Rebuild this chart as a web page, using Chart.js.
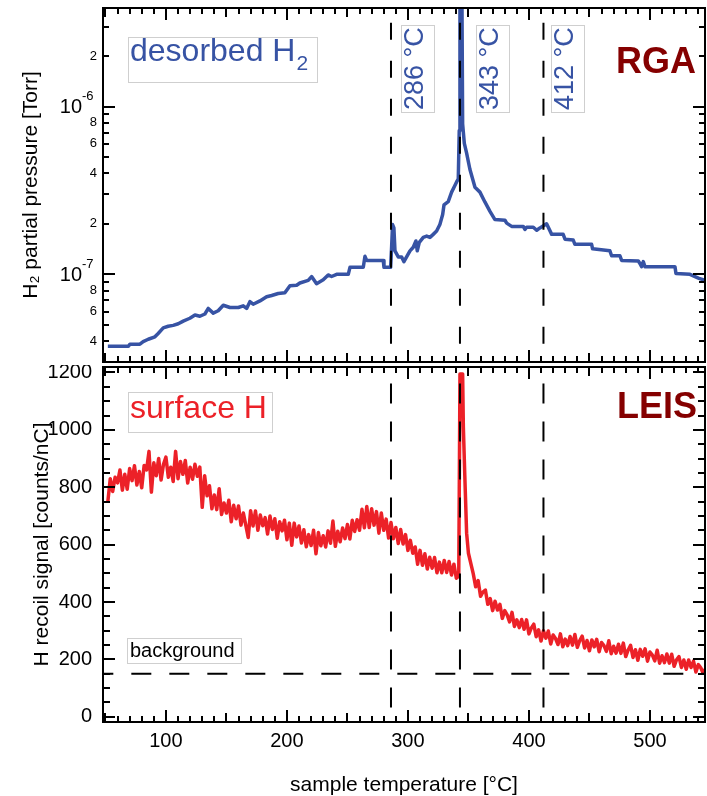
<!DOCTYPE html>
<html>
<head>
<meta charset="utf-8">
<script src="https://cdn.jsdelivr.net/npm/chart.js@4.4.0/dist/chart.umd.min.js"></script>
<style>
html, body { margin: 0; padding: 0; background: #fff; }
#wrap { position: relative; width: 707px; height: 796px; overflow: hidden; }
#rga { position: absolute; left: 0; top: 0; }
#leis { position: absolute; left: 0; top: 365px; }
</style>
</head>
<body>
<div id="wrap">
  <canvas id="rga" width="707" height="365"></canvas>
  <canvas id="leis" width="707" height="431"></canvas>
</div>
<script>
// RGA: desorbed H2 partial pressure (Torr) vs sample temperature (°C)
var rgaTemp = [52, 69, 70.2, 78.5, 81.2, 85.4, 90.9, 93.6, 97.8, 101.9,
  106, 110.2, 114.3, 119.8, 124, 128.1, 132.2, 135, 139.1, 143.2,
  147.4, 152.9, 159.8, 163.9, 166.7, 169.4, 172.1, 177.7, 183.2, 187.4,
  192.8, 198.3, 202.5, 208, 210.7, 217.6, 220.4, 224.5, 230, 234.1,
  236.9, 241.1, 250.7, 252.1, 263.1, 264.5, 265.9, 279.6, 280.2, 285.7,
  286.5, 287.3, 288.4, 289.3, 292, 294.8, 296.7, 298.9, 301.7, 304.4,
  306.6, 307.7, 309.4, 312.7, 315.5, 318.2, 320.9, 323.7, 326.4, 328.7,
  329.8, 333.3, 336.1, 338.8, 340.7, 341.6, 342.4, 343, 344.6, 345.2,
  346.6, 348.5, 351.2, 355.4, 359.5, 363.6, 367.8, 371.9, 380.2, 381.6,
  385.7, 395.3, 396.7, 398.1, 403.6, 406.4, 409.1, 414.6, 418.8, 428.3,
  429.8, 436.6, 438, 451.8, 452.6, 466.9, 468.3, 475.2, 476.6, 490.4,
  491.7, 493.1, 494.5, 495.9, 520.7, 521.5, 533.1, 540, 547.1];
var rgaPressure = [3.72e-8, 3.72e-8, 3.83e-8, 3.83e-8, 3.97e-8, 4.10e-8, 4.24e-8, 4.44e-8, 4.79e-8, 4.90e-8,
  4.96e-8, 5.07e-8, 5.26e-8, 5.47e-8, 5.72e-8, 5.62e-8, 5.80e-8, 6.26e-8, 5.87e-8, 6.06e-8,
  6.54e-8, 6.34e-8, 6.34e-8, 6.49e-8, 6.26e-8, 6.87e-8, 6.63e-8, 6.94e-8, 7.35e-8, 7.48e-8,
  7.68e-8, 7.76e-8, 8.55e-8, 8.60e-8, 8.87e-8, 9.19e-8, 9.70e-8, 8.79e-8, 9.27e-8, 9.91e-8,
  9.70e-8, 1.00e-7, 1.00e-7, 1.10e-7, 1.10e-7, 1.28e-7, 1.21e-7, 1.21e-7, 1.10e-7, 1.10e-7,
  1.45e-7, 1.98e-7, 1.89e-7, 1.38e-7, 1.27e-7, 1.27e-7, 1.19e-7, 1.27e-7, 1.38e-7, 1.45e-7,
  1.58e-7, 1.38e-7, 1.55e-7, 1.66e-7, 1.69e-7, 1.66e-7, 1.73e-7, 1.81e-7, 1.98e-7, 2.27e-7,
  2.59e-7, 2.71e-7, 3.09e-7, 3.38e-7, 3.61e-7, 3.70e-7, 7.2e-7, 5e-6, 5e-6, 7.89e-7,
  6.04e-7, 5.28e-7, 4.23e-7, 3.30e-7, 3.09e-7, 2.70e-7, 2.37e-7, 2.12e-7, 2.10e-7, 2.02e-7,
  1.93e-7, 1.93e-7, 1.85e-7, 1.91e-7, 1.91e-7, 1.83e-7, 1.89e-7, 2.00e-7, 1.73e-7, 1.73e-7,
  1.62e-7, 1.60e-7, 1.51e-7, 1.51e-7, 1.42e-7, 1.38e-7, 1.29e-7, 1.29e-7, 1.21e-7, 1.20e-7,
  1.16e-7, 1.11e-7, 1.19e-7, 1.11e-7, 1.11e-7, 1.01e-7, 1.00e-7, 9.5e-8, 9.1e-8];

// LEIS: H recoil signal (counts/nC) vs sample temperature (°C)
var leisTemp = [52, 54, 56, 58, 60, 62, 64, 66, 68, 70,
  72, 74, 76, 78, 80, 82, 84, 86, 88, 90,
  92, 94, 96, 98, 100, 102, 104, 106, 108, 110,
  112, 114, 116, 118, 120, 122, 124, 126, 128, 130,
  132, 134, 136, 138, 140, 142, 144, 146, 148, 150,
  152, 154, 156, 158, 160, 162, 164, 166, 168, 170,
  172, 174, 176, 178, 180, 182, 184, 186, 188, 190,
  192, 194, 196, 198, 200, 202, 204, 206, 208, 210,
  212, 214, 216, 218, 220, 222, 224, 226, 228, 230,
  232, 234, 236, 238, 240, 242, 244, 246, 248, 250,
  252, 254, 256, 258, 260, 262, 264, 266, 268, 270,
  272, 274, 276, 278, 280, 282, 284, 286, 288, 290,
  292, 294, 296, 298, 300, 302, 304, 306, 308, 310,
  312, 314, 316, 318, 320, 322, 324, 326, 328, 330,
  332, 334, 336, 338, 340,
  342, 343, 345.2, 345.8, 347, 348.5, 350, 352.5,
  354, 356, 358, 360, 362, 364, 366, 368, 370, 372,
  374, 376, 378, 380, 382, 384, 386, 388, 390, 392,
  394, 396, 398, 400, 402, 404, 406, 408, 410, 412,
  414, 416, 418, 420, 422, 424, 426, 428, 430, 432,
  434, 436, 438, 440, 442, 444, 446, 448, 450, 452,
  454, 456, 458, 460, 462, 464, 466, 468, 470, 472,
  474, 476, 478, 480, 482, 484, 486, 488, 490, 492,
  494, 496, 498, 500, 502, 504, 506, 508, 510, 512,
  514, 516, 518, 520, 522, 524, 526, 528, 530, 532,
  534, 536, 538, 540, 542, 544, 546];
var leisSignal = [750, 830, 785, 835, 815, 860, 790, 845, 793, 865,
  823, 875, 808, 855, 798, 876, 860, 925, 783, 885,
  840, 900, 825, 880, 905, 835, 870, 820, 925, 830,
  890, 845, 893, 815, 870, 828, 880, 838, 870, 730,
  840, 770, 805, 725, 773, 722, 795, 705, 745, 710,
  755, 680, 737, 690, 735, 668, 710, 668, 625, 718,
  665, 717, 650, 703, 666, 694, 637, 700, 653, 690,
  622, 680, 648, 685, 617, 675, 598, 675, 627, 665,
  606, 652, 593, 635, 597, 650, 568, 642, 596, 631,
  592, 648, 605, 682, 594, 647, 610, 658, 621, 670,
  620, 685, 646, 687, 650, 723, 659, 733, 660, 725,
  668, 715, 640, 710, 650, 689, 623, 677, 621, 660,
  604, 653, 602, 635, 580, 615, 570, 592, 532, 580,
  528, 568, 515, 556, 518, 555, 502, 539, 502, 545,
  503, 541, 494, 532, 483,
  490, 1195, 1195, 1010, 840, 640, 570, 525,
  498, 453, 475, 420, 435, 442, 392, 412, 370, 403,
  372, 392, 343, 370, 355, 331, 364, 315, 338, 311,
  339, 305, 338, 289, 310, 323, 279, 303, 264, 300,
  274, 299, 254, 285, 273, 252, 289, 244, 271, 248,
  280, 250, 287, 242, 266, 281, 240, 266, 230, 268,
  244, 270, 227, 259, 248, 228, 265, 220, 246, 222,
  253, 221, 257, 210, 233, 249, 207, 234, 197, 235,
  211, 237, 194, 226, 215, 195, 232, 187, 213, 189,
  219, 187, 218, 176, 199, 210, 172, 198, 166, 198,
  172, 194, 156, 182, 171, 152, 168];

var markerTemps = [286, 343, 412];
var markerLabels = ['286 °C', '343 °C', '412 °C'];
var backgroundLevel = 150;
var tempLabels = [100, 200, 300, 400, 500];
var signalLabels = [0, 200, 400, 600, 800, 1000, 1200];

var BLUE = '#3753a4';
var RED = '#ec2128';
var DARKRED = '#850000';
var FONT = '"Liberation Sans", Arial, Helvetica, sans-serif';

Chart.defaults.font.family = FONT;
Chart.defaults.color = '#000';

function points(xs, ys) {
    return xs.map(function (x, i) { return {x: x, y: ys[i]}; });
}

function dashedLines(temps, lo, hi, dash) {
    return temps.map(function (t) {
        return {
            data: [{x: t, y: lo}, {x: t, y: hi}],
            borderColor: '#000', borderWidth: 2, borderDash: dash,
            pointRadius: 0, order: 0, clip: 0
        };
    });
}

// log axis ticks: mantissa 1..9 of each decade inside the range
var rgaMin = 3.38e-8, rgaMax = 3.87e-6;
var rgaTicks = [];
[-8, -7, -6].forEach(function (d) {
    for (var m = 1; m <= 9; m++) {
        var v = m * Math.pow(10, d);
        if (v >= rgaMin && v <= rgaMax) rgaTicks.push(v);
    }
});
function mantissa(v) {
    var e = Math.floor(Math.log10(v) + 1e-9);
    return Math.round(v / Math.pow(10, e));
}

var signalMinor = [];
for (var s = 0; s <= 1200; s += 50) signalMinor.push(s);

// frame with inward ticks on all four sides
function drawFrame(chart, yMarks) {
    var ctx = chart.ctx, a = chart.chartArea, sx = chart.scales.x, sy = chart.scales.y;
    ctx.save();
    ctx.strokeStyle = '#000';
    ctx.lineWidth = 2;
    ctx.beginPath();
    for (var t = 50; t <= 540; t += 10) {
        var px = Math.round(sx.getPixelForValue(t));
        var len = t % 100 === 0 ? 12 : (t % 50 === 0 ? 9 : 6);
        ctx.moveTo(px, a.top); ctx.lineTo(px, a.top + len);
        ctx.moveTo(px, a.bottom); ctx.lineTo(px, a.bottom - len);
    }
    yMarks.forEach(function (m) {
        var py = Math.round(sy.getPixelForValue(m.v));
        ctx.moveTo(a.left, py); ctx.lineTo(a.left + m.len, py);
        ctx.moveTo(a.right, py); ctx.lineTo(a.right - m.len, py);
    });
    ctx.stroke();
    ctx.strokeRect(a.left, a.top, a.width, a.height);
    ctx.restore();
}

function boxedText(ctx, bx, by, bw, bh) {
    ctx.strokeStyle = '#cfcfcf';
    ctx.lineWidth = 1;
    ctx.strokeRect(bx + 0.5, by + 0.5, bw, bh);
}

var rgaChart = new Chart(document.getElementById('rga'), {
    type: 'line',
    data: {
        datasets: dashedLines(markerTemps, 1e-9, 1e-5, [17, 21]).concat([{
            data: points(rgaTemp, rgaPressure),
            borderColor: BLUE, borderWidth: 3.5, pointRadius: 0,
            tension: 0, borderJoinStyle: 'round', order: 1, clip: 0
        }])
    },
    options: {
        responsive: false, animation: false, devicePixelRatio: 1,
        layout: {autoPadding: false, padding: {top: 8, right: 2, left: 0, bottom: 0}},
        plugins: {legend: {display: false}, tooltip: {enabled: false}},
        scales: {
            x: {
                type: 'linear', min: 48, max: 545.5,
                grid: {display: false, drawTicks: false}, border: {display: false},
                ticks: {display: false},
                afterFit: function (sc) { sc.height = 3; sc.paddingLeft = 0; sc.paddingRight = 0; }
            },
            y: {
                type: 'logarithmic', min: rgaMin, max: rgaMax,
                grid: {display: false, drawTicks: false}, border: {display: false},
                afterBuildTicks: function (sc) {
                    sc.ticks = rgaTicks.map(function (v) { return {value: v}; });
                },
                ticks: {
                    autoSkip: false, padding: 6, font: {size: 13}, color: '#000',
                    callback: function (v) {
                        var m = mantissa(v);
                        return (m % 2 === 0) ? String(m) : '';
                    }
                },
                title: {
                    display: true, text: 'H₂ partial pressure [Torr]',
                    font: {size: 21}, padding: {top: 19, bottom: 0}
                },
                afterFit: function (sc) { sc.width = 103; sc.paddingTop = 0; sc.paddingBottom = 0; }
            }
        }
    },
    plugins: [{
        id: 'rgaDecor',
        afterDraw: function (chart) {
            var ctx = chart.ctx, sx = chart.scales.x, sy = chart.scales.y;
            drawFrame(chart, rgaTicks.map(function (v) {
                return {v: v, len: mantissa(v) === 1 ? 12 : 6};
            }));
            ctx.save();
            // decade labels with superscript exponent
            [[1e-7, '-7'], [1e-6, '-6']].forEach(function (d) {
                var py = sy.getPixelForValue(d[0]);
                ctx.fillStyle = '#000';
                ctx.textBaseline = 'middle';
                ctx.textAlign = 'right';
                ctx.font = '20px ' + FONT;
                ctx.fillText('10', 82, py + 1);
                ctx.textAlign = 'left';
                ctx.font = '13px ' + FONT;
                ctx.fillText(d[1], 82, py - 10);
            });
            // "desorbed H2"
            boxedText(ctx, 128, 37, 189, 45);
            ctx.fillStyle = BLUE;
            ctx.textBaseline = 'alphabetic';
            ctx.textAlign = 'left';
            ctx.font = '32px ' + FONT;
            ctx.fillText('desorbed H', 130, 61);
            var w = ctx.measureText('desorbed H').width;
            ctx.font = '21px ' + FONT;
            ctx.fillText('2', 130 + w + 1, 70);
            // temperature markers
            var offs = [10, 16, 8];
            markerTemps.forEach(function (t, i) {
                var bx = Math.round(sx.getPixelForValue(t)) + offs[i];
                boxedText(ctx, bx, 25, 33, 87);
                ctx.save();
                ctx.translate(bx + 22, 110);
                ctx.rotate(-Math.PI / 2);
                ctx.fillStyle = BLUE;
                ctx.font = '27px ' + FONT;
                ctx.textAlign = 'left';
                ctx.textBaseline = 'alphabetic';
                ctx.fillText(markerLabels[i], 0, 0);
                ctx.restore();
            });
            ctx.fillStyle = DARKRED;
            ctx.font = 'bold 36px ' + FONT;
            ctx.textAlign = 'left';
            ctx.fillText('RGA', 616, 73);
            ctx.restore();
        }
    }]
});

var leisChart = new Chart(document.getElementById('leis'), {
    type: 'line',
    data: {
        datasets: dashedLines(markerTemps, -100, 1300, [20, 18]).concat([{
            data: [{x: 40, y: backgroundLevel}, {x: 560, y: backgroundLevel}],
            borderColor: '#000', borderWidth: 2, borderDash: [20, 18],
            pointRadius: 0, order: 0, clip: 0
        }, {
            data: points(leisTemp, leisSignal),
            borderColor: RED, borderWidth: 3.5, pointRadius: 0,
            tension: 0, borderJoinStyle: 'round', order: 1, clip: 0
        }])
    },
    options: {
        responsive: false, animation: false, devicePixelRatio: 1,
        layout: {autoPadding: false, padding: {top: 2, right: 2, left: 0, bottom: 0}},
        plugins: {legend: {display: false}, tooltip: {enabled: false}},
        scales: {
            x: {
                type: 'linear', min: 48, max: 545.5,
                grid: {display: false, drawTicks: false}, border: {display: false},
                afterBuildTicks: function (sc) {
                    sc.ticks = tempLabels.map(function (v) { return {value: v}; });
                },
                ticks: {autoSkip: false, maxRotation: 0, padding: 7, font: {size: 20}, color: '#000',
                    callback: function (v) { return String(v); }},
                title: {
                    display: true, text: 'sample temperature [°C]',
                    font: {size: 21, lineHeight: 1}, padding: {top: 0, bottom: 0}
                },
                afterFit: function (sc) { sc.height = 74; sc.paddingLeft = 0; sc.paddingRight = 0; }
            },
            y: {
                type: 'linear', min: -18, max: 1219,
                grid: {display: false, drawTicks: false}, border: {display: false},
                afterBuildTicks: function (sc) {
                    sc.ticks = signalLabels.map(function (v) { return {value: v}; });
                },
                ticks: {autoSkip: false, padding: 11, font: {size: 20}, color: '#000',
                    callback: function (v) { return String(v); }},
                title: {
                    display: true, text: 'H recoil signal [counts/nC]',
                    font: {size: 21}, padding: {top: 30, bottom: 0}
                },
                afterFit: function (sc) { sc.width = 103; sc.paddingTop = 0; sc.paddingBottom = 0; }
            }
        }
    },
    plugins: [{
        id: 'leisDecor',
        afterDraw: function (chart) {
            var ctx = chart.ctx;
            drawFrame(chart, signalMinor.map(function (v) {
                return {v: v, len: v % 200 === 0 ? 12 : 7};
            }));
            ctx.save();
            boxedText(ctx, 128, 27, 144, 40);
            ctx.fillStyle = RED;
            ctx.font = '32px ' + FONT;
            ctx.textAlign = 'left';
            ctx.textBaseline = 'alphabetic';
            ctx.fillText('surface H', 130, 53);
            ctx.fillStyle = DARKRED;
            ctx.font = 'bold 36px ' + FONT;
            ctx.fillText('LEIS', 617, 53);
            boxedText(ctx, 127, 273, 114, 25);
            ctx.fillStyle = '#000';
            ctx.font = '20px ' + FONT;
            ctx.fillText('background', 130, 292);
            ctx.restore();
        }
    }]
});
</script>
</body>
</html>
